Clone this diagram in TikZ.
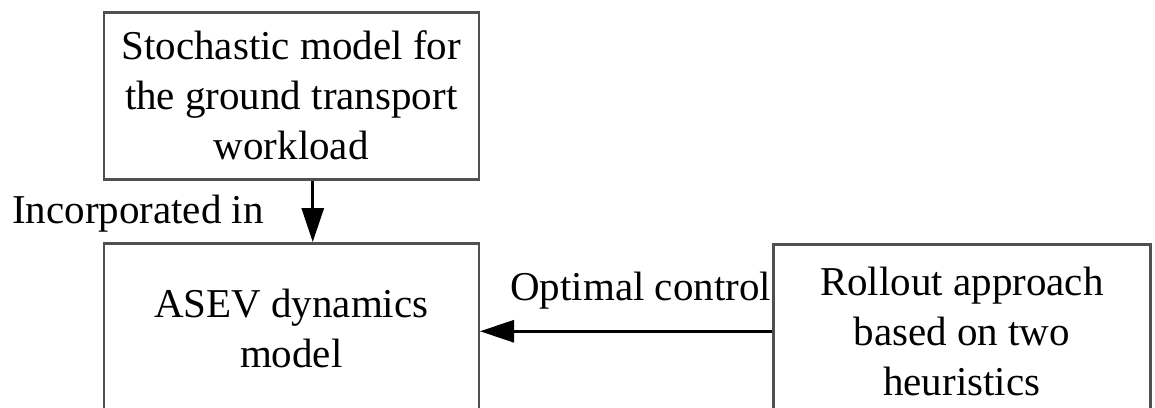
\documentclass[tikz,border=0pt]{standalone}
\usepackage{fontspec}
\setmainfont{Liberation Serif}
\usetikzlibrary{arrows.meta}
\definecolor{boxgray}{HTML}{505050}
\tikzset{
  box/.style={draw=boxgray, line width=2.5pt, rectangle, anchor=north west, inner sep=0pt,
    align=center, font=\fontsize{41}{50}\selectfont},
  lbl/.style={inner sep=0pt, anchor=base west, font=\fontsize{41}{50}\selectfont},
  arr/.style={line width=3pt, -{Triangle[length=34pt,width=22pt]}}
}
\begin{document}
\begin{tikzpicture}[x=1pt,y=-1pt]
\useasboundingbox (0,0) rectangle (1155,407);
\clip (0,0) rectangle (1155,407);
\fill[white] (0,0) rectangle (1155,407);
\node[box, minimum width=375pt, minimum height=167pt] (b1) at (102.5,11)
  {Stochastic model for\\the ground transport\\workload};
\node[box, minimum width=375pt, minimum height=170pt] (b2) at (102.5,242)
  {ASEV dynamics\\model};
\node[box, minimum width=377pt, minimum height=174pt] (b3) at (772,243)
  {Rollout approach\\based on two\\heuristics};
\draw[arr] ([xshift=21.5pt]b1.south) -- ([xshift=21.5pt]b2.north);
\draw[arr] (b3.west) -- (b3.west -| b2.east);
\node[lbl] (l1) at (12,223) {Incorporated in};
\node[lbl] (l2) at (510,300) {Optimal control};
\end{tikzpicture}
\end{document}
